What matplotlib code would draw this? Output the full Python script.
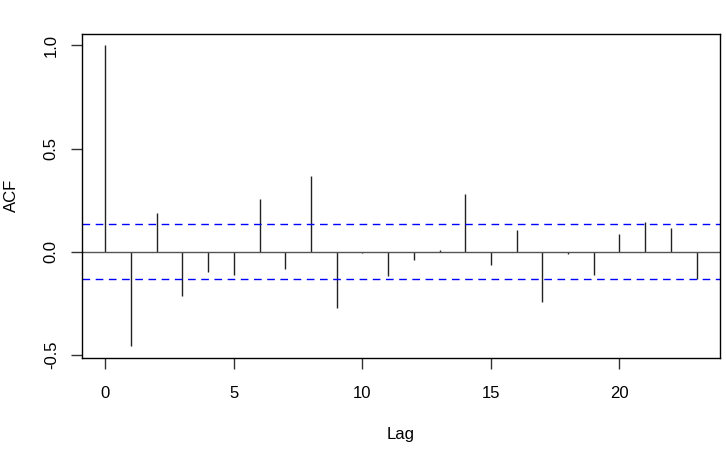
import matplotlib
matplotlib.use("Agg")
import matplotlib.pyplot as plt
import numpy as np

plt.rcParams['font.family'] = ['Liberation Sans', 'DejaVu Sans']

# ACF values
lags = list(range(24))
acf = [1.0, -0.456, 0.189, -0.214, -0.098, -0.111, 0.253, -0.085,
       0.366, -0.274, -0.008, -0.116, -0.042, 0.008, 0.281, -0.066,
       0.106, -0.242, -0.010, -0.111, 0.086, 0.142, 0.116, -0.134]
conf = 0.133
xticks = [0, 5, 10, 15, 20]
yticks = [-0.5, 0.0, 0.5, 1.0]
ytick_labels = ["-0.5", "0.0", "0.5", "1.0"]

fig = plt.figure(figsize=(7.26, 4.49), dpi=100)
ax = fig.add_axes([0.1125, 0.2033, 0.8796, 0.721])

ax.vlines(lags, 0, acf, color='#222222', lw=1.0)
ax.axhline(0, color='#555555', lw=1.0)
for c in (conf, -conf):
    ax.axhline(c, color='blue', lw=1.0, linestyle=(0, (5.5, 4)))

ax.set_xlim(-0.92, 23.92)
ax.set_ylim(-0.514, 1.055)
ax.set_xticks(xticks)
ax.set_yticks(yticks)
ax.set_yticklabels(ytick_labels, rotation=90, va='center')

for s in ax.spines.values():
    s.set_linewidth(1.0)
    s.set_color('black')

ax.tick_params(axis='both', direction='out', length=8, width=1.0,
               labelsize=12, color='#333333')
ax.tick_params(axis='x', pad=12.5)
ax.tick_params(axis='y', pad=8.5)

ax.set_xlabel('Lag', fontsize=12)
ax.set_ylabel('ACF', fontsize=12)
ax.xaxis.set_label_coords(0.5, -0.214)
ax.yaxis.set_label_coords(-0.098, 0.5)

fig.savefig('out.png', dpi=100)
